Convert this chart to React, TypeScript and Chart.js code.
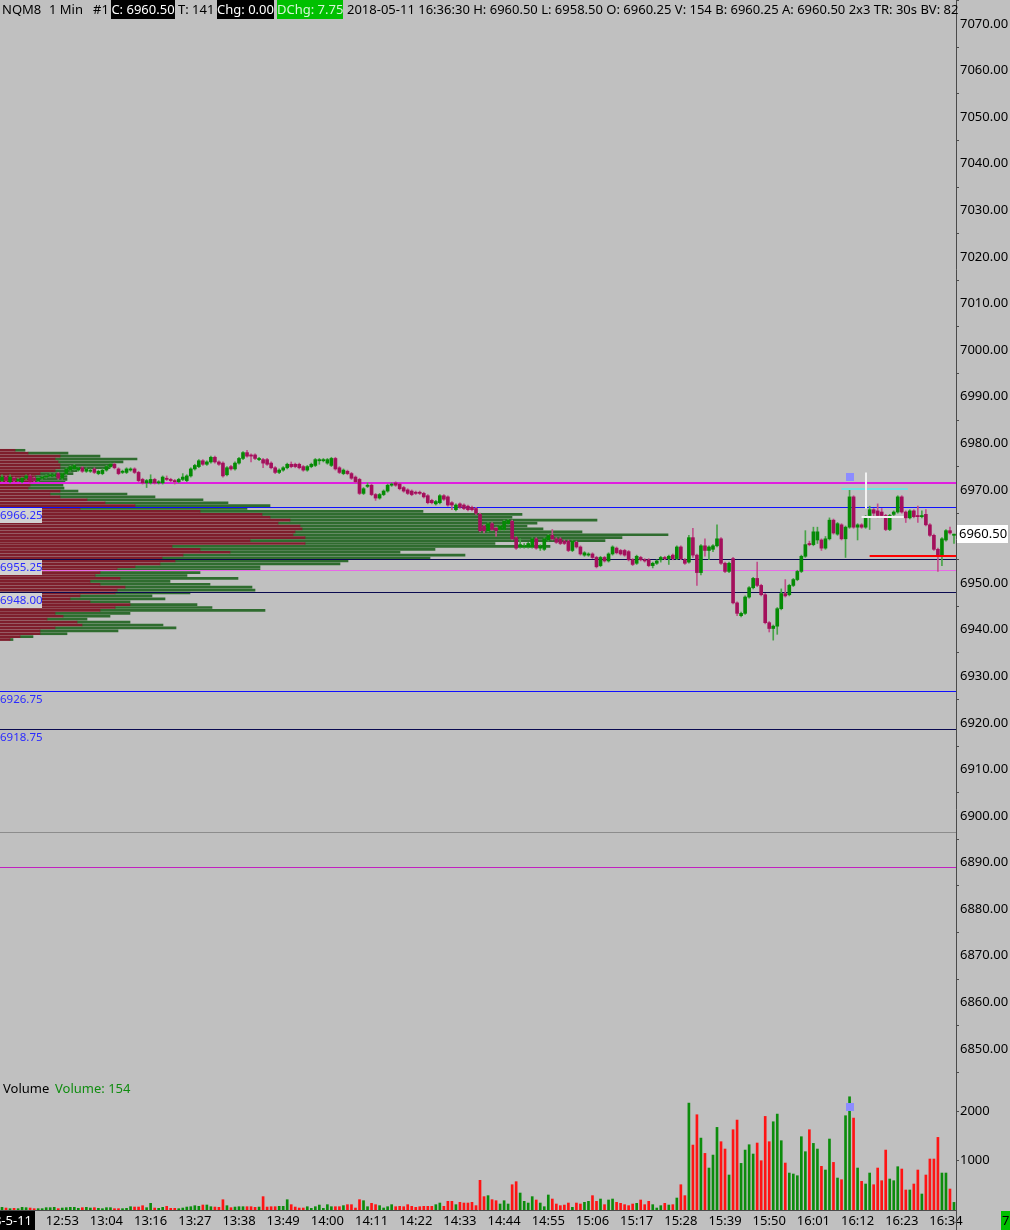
import React, { useEffect, useRef } from 'react';
import { Chart, registerables } from 'chart.js';

Chart.register(...registerables);

const FONT = "'Noto Sans', 'DejaVu Sans', sans-serif";

// ---------- time axis ----------
const sessionStart = '12:38';
const sessionEnd = '16:36';
const missingMinutes = ['13:10'];
const timeTickLabels = ['12:53', '13:04', '13:16', '13:27', '13:38', '13:49', '14:00', '14:11', '14:22', '14:33', '14:44', '14:55', '15:06', '15:17', '15:28', '15:39', '15:50', '16:01', '16:12', '16:23', '16:34'];
const sessionDateLabel = '2018-5-11';

function buildBarTimes(): string[] {
  const [sh, sm] = sessionStart.split(':').map(Number);
  const [eh, em] = sessionEnd.split(':').map(Number);
  const out: string[] = [];
  for (let m = sh * 60 + sm; m <= eh * 60 + em; m++) {
    const t = `${String(Math.floor(m / 60)).padStart(2, '0')}:${String(m % 60).padStart(2, '0')}`;
    if (!missingMinutes.includes(t)) out.push(t);
  }
  return out;
}
const barTimes = buildBarTimes();

// ---------- price candles [open, high, low, close] ----------
const ohlc: number[][] = [
  [6972.0, 6973.25, 6971.75, 6972.75], [6972.75, 6973.0, 6971.75, 6972.0], [6971.75, 6973.25, 6971.5, 6972.75], [6972.5, 6972.75, 6971.75, 6972.0],
  [6972.0, 6972.5, 6971.75, 6972.25], [6971.75, 6972.75, 6971.5, 6972.5], [6972.5, 6973.25, 6972.25, 6973.0], [6973.0, 6973.25, 6971.5, 6971.75],
  [6972.5, 6972.75, 6971.75, 6972.0], [6972.0, 6972.75, 6971.75, 6972.5], [6972.5, 6973.0, 6972.25, 6972.75], [6972.75, 6973.25, 6972.5, 6973.0],
  [6973.0, 6973.5, 6972.75, 6973.25], [6973.0, 6973.5, 6972.75, 6973.25], [6973.5, 6973.75, 6972.25, 6972.5], [6972.5, 6973.75, 6972.25, 6973.5],
  [6973.5, 6974.75, 6973.25, 6974.5], [6974.25, 6975.25, 6974.0, 6975.0], [6974.5, 6975.5, 6974.25, 6975.25], [6974.25, 6975.0, 6974.0, 6974.75],
  [6974.75, 6975.0, 6973.75, 6974.0], [6974.0, 6974.75, 6973.75, 6974.5], [6974.0, 6974.5, 6973.75, 6974.25], [6974.5, 6974.75, 6973.5, 6973.75],
  [6973.5, 6974.25, 6973.25, 6974.0], [6973.5, 6974.5, 6973.25, 6974.25], [6974.25, 6975.25, 6974.0, 6975.0], [6975.0, 6975.75, 6974.75, 6975.5],
  [6975.5, 6975.75, 6974.5, 6974.75], [6974.5, 6974.75, 6973.25, 6973.5], [6973.75, 6974.25, 6973.5, 6974.0], [6973.75, 6974.75, 6973.5, 6974.5],
  [6974.25, 6974.75, 6974.0, 6974.5], [6974.5, 6974.75, 6973.5, 6973.75], [6973.75, 6974.0, 6971.75, 6972.0], [6972.25, 6972.5, 6971.25, 6971.5],
  [6971.5, 6972.25, 6970.5, 6972.0], [6971.5, 6973.25, 6971.25, 6972.25], [6972.25, 6972.5, 6971.25, 6971.5], [6971.5, 6972.0, 6971.25, 6971.75],
  [6971.5, 6973.0, 6971.25, 6972.75], [6972.5, 6973.0, 6972.0, 6972.25], [6972.25, 6972.5, 6971.75, 6972.0], [6972.0, 6972.25, 6971.25, 6971.75],
  [6971.75, 6972.5, 6971.5, 6972.25], [6972.25, 6973.5, 6972.0, 6972.75], [6972.0, 6973.25, 6971.75, 6973.0], [6973.0, 6974.75, 6972.75, 6974.5],
  [6974.5, 6975.5, 6974.25, 6975.25], [6975.0, 6976.5, 6974.75, 6976.25], [6976.25, 6976.5, 6975.25, 6975.5], [6975.5, 6976.25, 6975.25, 6976.0],
  [6976.0, 6977.25, 6975.75, 6977.0], [6977.0, 6977.25, 6975.75, 6976.0], [6976.0, 6976.25, 6975.25, 6975.5], [6975.75, 6976.0, 6972.75, 6973.0],
  [6973.25, 6975.0, 6973.0, 6974.75], [6975.0, 6975.25, 6974.25, 6974.5], [6974.5, 6976.0, 6974.25, 6975.75], [6975.75, 6977.0, 6975.5, 6976.75],
  [6976.75, 6978.25, 6976.5, 6978.0], [6978.0, 6978.5, 6977.0, 6977.25], [6977.5, 6977.75, 6976.0, 6977.25], [6977.5, 6977.75, 6976.5, 6976.75],
  [6976.5, 6977.0, 6976.25, 6976.75], [6976.5, 6976.75, 6974.75, 6975.75], [6976.5, 6976.75, 6975.25, 6975.5], [6975.75, 6976.0, 6974.5, 6974.75],
  [6974.75, 6975.0, 6973.5, 6973.75], [6973.75, 6974.5, 6973.5, 6974.25], [6974.25, 6975.0, 6974.0, 6974.75], [6974.75, 6975.75, 6974.5, 6975.5],
  [6975.5, 6976.0, 6974.75, 6975.0], [6975.5, 6975.75, 6974.75, 6975.0], [6975.5, 6975.75, 6974.5, 6974.75], [6975.0, 6975.25, 6974.0, 6974.25],
  [6974.25, 6975.25, 6974.0, 6975.0], [6975.0, 6975.75, 6974.75, 6975.5], [6975.25, 6976.75, 6975.0, 6976.5], [6976.25, 6976.75, 6975.5, 6976.5],
  [6976.25, 6976.75, 6976.0, 6976.5], [6975.75, 6976.75, 6975.5, 6976.5], [6975.25, 6977.0, 6975.0, 6976.75], [6976.75, 6977.0, 6974.25, 6974.5],
  [6974.75, 6975.0, 6973.5, 6973.75], [6973.5, 6974.5, 6973.25, 6974.25], [6974.0, 6974.25, 6973.25, 6973.5], [6973.5, 6973.75, 6972.25, 6972.5],
  [6972.75, 6973.0, 6971.5, 6971.75], [6972.25, 6972.5, 6969.0, 6969.25], [6969.25, 6970.5, 6969.0, 6970.25], [6970.75, 6971.5, 6970.5, 6971.0],
  [6971.0, 6971.25, 6968.75, 6969.0], [6969.0, 6969.25, 6967.75, 6968.25], [6968.25, 6969.25, 6968.0, 6969.0], [6969.0, 6970.0, 6968.75, 6969.75],
  [6969.75, 6971.25, 6969.5, 6971.0], [6971.0, 6971.5, 6970.75, 6971.25], [6971.5, 6971.75, 6970.75, 6971.0], [6971.25, 6971.5, 6970.0, 6970.25],
  [6970.5, 6970.75, 6969.5, 6969.75], [6970.0, 6970.25, 6969.0, 6969.25], [6969.75, 6970.0, 6968.75, 6969.0], [6969.5, 6969.75, 6969.0, 6969.25],
  [6969.5, 6969.75, 6969.0, 6969.25], [6969.25, 6969.5, 6968.25, 6968.5], [6968.75, 6969.0, 6967.0, 6967.25], [6967.75, 6968.0, 6967.0, 6967.25],
  [6967.0, 6967.75, 6966.75, 6967.5], [6967.25, 6969.0, 6967.0, 6968.75], [6968.75, 6969.0, 6967.75, 6968.0], [6968.5, 6968.75, 6966.5, 6966.75],
  [6967.25, 6967.5, 6965.75, 6966.75], [6965.75, 6967.0, 6965.5, 6966.75], [6967.0, 6967.25, 6966.0, 6966.25], [6966.75, 6967.0, 6965.75, 6966.0],
  [6966.5, 6966.75, 6965.5, 6965.75], [6966.25, 6966.5, 6965.5, 6965.75], [6966.0, 6966.25, 6964.75, 6965.0], [6964.75, 6965.0, 6961.0, 6961.25],
  [6962.25, 6962.5, 6960.75, 6961.25], [6961.25, 6963.0, 6961.0, 6962.75], [6962.75, 6963.0, 6961.25, 6961.5], [6961.75, 6962.0, 6960.0, 6961.25],
  [6961.5, 6962.5, 6961.25, 6962.25], [6961.5, 6963.5, 6961.25, 6963.25], [6962.75, 6963.75, 6962.5, 6963.5], [6963.25, 6963.5, 6959.25, 6959.5],
  [6959.75, 6960.0, 6957.25, 6957.5], [6957.75, 6959.5, 6957.5, 6958.25], [6957.75, 6958.5, 6957.5, 6958.0], [6957.75, 6958.75, 6957.5, 6958.5],
  [6957.75, 6959.75, 6957.5, 6959.5], [6959.5, 6959.75, 6957.25, 6957.5], [6957.5, 6958.25, 6957.0, 6958.0], [6957.25, 6959.75, 6957.0, 6959.5],
  [6959.25, 6960.5, 6959.0, 6960.25], [6960.25, 6961.5, 6959.25, 6959.5], [6959.5, 6959.75, 6958.5, 6958.75], [6959.5, 6959.75, 6958.25, 6958.5],
  [6959.0, 6959.25, 6958.25, 6958.5], [6959.0, 6959.25, 6956.75, 6957.0], [6957.0, 6959.25, 6956.75, 6959.0], [6958.75, 6959.0, 6957.5, 6957.75],
  [6957.75, 6958.0, 6956.0, 6956.25], [6956.0, 6956.75, 6955.75, 6956.5], [6956.0, 6956.5, 6955.75, 6956.25], [6956.25, 6956.5, 6955.25, 6955.5],
  [6955.5, 6955.75, 6953.25, 6953.5], [6953.75, 6955.75, 6953.5, 6955.5], [6955.5, 6955.75, 6954.5, 6954.75], [6954.75, 6956.5, 6954.5, 6956.25],
  [6956.25, 6958.0, 6956.0, 6957.75], [6957.5, 6957.75, 6956.25, 6956.5], [6957.0, 6957.25, 6956.0, 6956.25], [6957.0, 6957.25, 6955.75, 6956.0],
  [6956.75, 6957.0, 6954.75, 6955.0], [6955.0, 6955.25, 6953.75, 6954.0], [6954.25, 6956.0, 6954.0, 6955.75], [6955.5, 6955.75, 6954.75, 6955.0],
  [6955.0, 6955.25, 6954.5, 6954.75], [6955.0, 6955.25, 6953.5, 6953.75], [6953.75, 6954.5, 6953.25, 6954.25], [6954.25, 6955.0, 6954.0, 6954.75],
  [6955.0, 6955.75, 6954.5, 6955.5], [6955.5, 6955.75, 6955.0, 6955.25], [6955.25, 6956.0, 6954.0, 6955.75], [6956.0, 6956.25, 6955.0, 6955.25],
  [6955.25, 6958.0, 6955.0, 6957.75], [6957.75, 6958.0, 6955.0, 6955.25], [6955.0, 6955.25, 6954.0, 6954.25], [6954.5, 6960.25, 6954.25, 6959.75],
  [6959.75, 6961.75, 6955.5, 6956.0], [6956.0, 6956.25, 6949.5, 6952.25], [6952.25, 6958.25, 6951.75, 6958.0], [6958.0, 6959.5, 6955.75, 6957.0],
  [6957.0, 6958.0, 6955.0, 6957.75], [6957.25, 6958.25, 6956.75, 6958.0], [6958.0, 6962.5, 6957.75, 6959.5], [6959.5, 6959.75, 6954.0, 6954.25],
  [6954.25, 6954.5, 6952.25, 6952.5], [6952.5, 6954.5, 6952.25, 6954.25], [6955.25, 6955.5, 6945.5, 6945.75], [6945.75, 6946.0, 6943.0, 6943.5],
  [6943.0, 6943.75, 6942.75, 6943.5], [6943.5, 6947.25, 6943.25, 6947.0], [6947.0, 6949.25, 6946.75, 6949.0], [6949.0, 6951.25, 6948.75, 6951.0],
  [6951.0, 6954.5, 6949.25, 6949.5], [6949.5, 6949.75, 6947.25, 6947.5], [6947.5, 6947.75, 6941.25, 6941.5], [6941.5, 6941.75, 6939.5, 6940.25],
  [6940.25, 6941.0, 6937.75, 6940.75], [6940.75, 6944.75, 6939.0, 6944.5], [6944.5, 6948.75, 6944.25, 6947.75], [6947.75, 6950.75, 6947.0, 6947.25],
  [6947.5, 6949.75, 6947.25, 6949.5], [6949.5, 6951.0, 6949.25, 6950.75], [6950.75, 6952.75, 6950.5, 6952.5], [6952.5, 6956.0, 6952.25, 6955.75],
  [6955.75, 6961.25, 6955.5, 6958.25], [6958.5, 6959.0, 6958.0, 6958.25], [6958.25, 6962.0, 6958.0, 6961.0], [6959.25, 6962.0, 6958.5, 6961.0],
  [6959.25, 6959.5, 6957.0, 6957.5], [6957.5, 6960.0, 6957.25, 6959.5], [6959.5, 6964.0, 6959.25, 6963.5], [6963.5, 6963.75, 6960.5, 6960.75],
  [6960.5, 6963.0, 6960.25, 6962.75], [6962.5, 6962.75, 6959.25, 6959.5], [6959.5, 6962.25, 6955.5, 6962.0], [6962.0, 6970.0, 6961.75, 6968.5],
  [6968.5, 6968.75, 6961.75, 6962.0], [6962.0, 6962.75, 6959.25, 6962.5], [6962.5, 6962.75, 6961.75, 6962.0], [6962.0, 6964.5, 6961.75, 6964.25],
  [6964.5, 6966.5, 6961.5, 6965.75], [6965.75, 6966.0, 6964.25, 6965.0], [6965.5, 6967.0, 6964.0, 6964.5], [6965.25, 6966.0, 6964.0, 6964.5],
  [6964.5, 6964.75, 6961.25, 6961.5], [6961.5, 6964.75, 6961.25, 6964.5], [6964.75, 6965.5, 6964.5, 6965.25], [6965.25, 6968.75, 6965.0, 6968.5],
  [6968.5, 6968.75, 6965.0, 6965.25], [6965.25, 6965.5, 6963.0, 6964.0], [6964.0, 6965.75, 6963.75, 6965.5], [6965.5, 6965.75, 6964.0, 6964.25],
  [6964.5, 6966.5, 6963.0, 6964.25], [6964.25, 6965.5, 6964.0, 6964.5], [6964.75, 6965.75, 6962.25, 6962.5], [6962.5, 6962.75, 6960.0, 6960.25],
  [6960.25, 6960.5, 6957.0, 6957.25], [6957.25, 6957.5, 6952.5, 6955.75], [6955.75, 6959.75, 6953.75, 6959.5], [6959.25, 6961.5, 6959.0, 6961.25],
  [6961.25, 6962.0, 6960.5, 6960.75], [6960.25, 6960.5, 6958.5, 6960.5],
];

// ---------- volume per bar ----------
const volumes: number[] = [
  54, 40, 27, 34, 27, 54, 47, 40, 27, 27, 27, 47, 47, 54, 27, 40, 47, 54, 54, 34,
  47, 54, 40, 47, 34, 27, 47, 47, 27, 27, 27, 34, 67, 60, 60, 87, 47, 135, 40, 34,
  54, 74, 34, 34, 27, 40, 60, 67, 87, 74, 101, 101, 67, 60, 54, 208, 87, 47, 60, 67,
  67, 67, 67, 54, 60, 270, 60, 67, 67, 74, 74, 208, 108, 60, 40,
  40, 67, 34, 67, 100, 34, 108, 67, 67, 67, 88, 108, 108, 40, 209, 188, 67, 135, 108, 88,
  40, 67, 108, 67, 74, 67, 108, 74, 54, 67, 74, 74, 74, 108, 141, 74, 175, 175, 108, 155,
  141, 141, 155, 88, 600, 270, 290, 209, 188, 121, 188, 121, 511, 572, 343, 175, 141, 270, 202, 141,
  67, 303, 222, 121, 88, 100, 141, 54, 141, 121, 155, 175, 290, 175, 222,
  108, 202, 222, 155, 135, 108, 88, 121, 135, 202, 108, 175, 108, 40, 88, 135, 100, 108, 242, 511,
  290, 2160, 1312, 1925, 1453, 1144, 848, 1110, 1669, 1380, 1232, 707, 1622, 1817, 942, 1211, 1319, 1131, 1353, 996,
  1891, 1380, 1783, 1938, 1400, 949, 747, 727, 693, 1481, 1178, 1622, 1346, 1232, 882, 808, 1434, 962, 646, 612,
  1905, 2288, 1857, 848, 579, 525, 747, 511, 848, 592, 1211, 626, 592, 875, 828, 404, 404, 525, 808, 323,
  707, 1030, 1030, 1467, 747, 747, 424, 154,
];

// ---------- volume profile (price ladder from top, sell / buy volume per row) ----------
const profileTop = 6978.5;
const profileStep = 0.625;
const profileSell: number[] = [
  15, 28, 60, 55, 58, 60, 60, 55, 40, 35, 30, 35, 30, 28, 60, 50, 60, 87, 105, 135,
  80, 200, 262, 270, 290, 278, 300, 302, 295, 293, 305, 250, 305, 172, 200, 230, 183, 162, 175, 160,
  135, 117, 100, 95, 120, 90, 100, 125, 117, 115, 80, 70, 90, 130, 115, 100, 55, 63, 47, 77,
  82, 55, 40, 40, 20, 10,
];
const profileBuy: number[] = [
  10, 40, 40, 82, 65, 53, 50, 22, 33, 32, 37, 30, 33, 36, 18, 77, 95, 116, 123, 135,
  167, 223, 260, 242, 307, 259, 227, 241, 287, 375, 317, 355, 190, 378, 235, 170, 282, 268, 173, 180,
  125, 143, 100, 92, 118, 80, 110, 127, 138, 75, 72, 95, 40, 67, 97, 165, 75, 47, 40, 53,
  81, 121, 78, 27, 13, 3,
];
const profilePrices = profileSell.map((_, i) => profileTop - i * profileStep);

// ---------- axes ----------
const priceTicks = [6850, 6860, 6870, 6880, 6890, 6900, 6910, 6920, 6930, 6940, 6950, 6960, 6970, 6980, 6990, 7000, 7010, 7020, 7030, 7040, 7050, 7060, 7070];
const priceMax = 7075.15;
const priceMin = 6843.77;
const volumeTicks = [1000, 2000];
const volumeMax = 2667;

// ---------- horizontal levels ----------
const levelPrices = [6971.5, 6966.25, 6955.25, 6952.75, 6948.0, 6926.75, 6918.75, 6896.5, 6889.0];
const levelStyles = [
  { color: '#e01ee0', width: 2 },
  { color: '#1010ff', width: 1 },
  { color: '#0a0a50', width: 1 },
  { color: '#e868e8', width: 1 },
  { color: '#0a0a50', width: 1 },
  { color: '#1010ff', width: 1 },
  { color: '#0a0a50', width: 1 },
  { color: '#8c8c8c', width: 1 },
  { color: '#c020c0', width: 1 },
];
const labeledLevels = [6966.25, 6955.25, 6948.0, 6926.75, 6918.75];

// ---------- annotations ----------
const markerBar = 211;
const markerPrice = 6972.75;
const markerVolume = 2080;
const cyanLevel = { price: 6970.25, fromBar: 209, toBar: 225 };
const whiteLevel = { price: 6964.25, fromBar: 214, toBar: 224 };
const whiteStem = { bar: 215, low: 6966.0, high: 6973.75 };
const redLevel = { price: 6955.75, fromBar: 216, toBar: 237 };
const lastPrice = 6960.5;
const dayChange = '7.75';

const GREEN_BODY = '#058a05';
const RED_BODY = '#a3105c';
const GREEN_WICK = '#47a347';
const RED_WICK = '#c0508a';

const zeroPad = (s: any) => {
  s.paddingTop = 0;
  s.paddingBottom = 0;
  s.paddingLeft = 0;
  s.paddingRight = 0;
};

export default function App() {
  const canvasRef = useRef<HTMLCanvasElement | null>(null);

  useEffect(() => {
    document.body.style.margin = '0';
    document.body.style.background = '#c0c0c0';
    const canvas = canvasRef.current;
    if (!canvas) return;
    Chart.defaults.font.family = FONT;
    Chart.defaults.font.size = 13;

    const up = ohlc.map((c) => c[3] >= c[0]);
    const bodyColors = up.map((u) => (u ? GREEN_BODY : RED_BODY));
    const wickColors = up.map((u) => (u ? GREEN_WICK : RED_WICK));
    const volColors = up.map((u) => (u ? '#0c8c0c' : '#ff1414'));

    const drawLevels = (chart: any) => {
      const { ctx, chartArea } = chart;
      const y = chart.scales.y;
      ctx.save();
      levelPrices.forEach((p, i) => {
        const py = Math.round(y.getPixelForValue(p)) + (levelStyles[i].width === 1 ? 0.5 : 0);
        ctx.strokeStyle = levelStyles[i].color;
        ctx.lineWidth = levelStyles[i].width;
        ctx.beginPath();
        ctx.moveTo(chartArea.left, py);
        ctx.lineTo(chartArea.right, py);
        ctx.stroke();
      });
      ctx.restore();
    };

    const overlay = {
      id: 'overlay',
      beforeDraw(chart: any) {
        const { ctx, width, height } = chart;
        ctx.save();
        ctx.fillStyle = '#c0c0c0';
        ctx.fillRect(0, 0, width, height);
        ctx.restore();
      },
      beforeDatasetDraw(chart: any, args: any) {
        if (args.index === 2) drawLevels(chart);
      },
      afterDatasetsDraw(chart: any) {
        const { ctx } = chart;
        const x = chart.scales.x;
        const y = chart.scales.y;
        const yv = chart.scales.yv;
        ctx.save();
        ctx.font = `11.5px ${FONT}`;
        ctx.textBaseline = 'middle';
        ctx.textAlign = 'left';
        labeledLevels.forEach((p, i) => {
          const py = Math.round(y.getPixelForValue(p));
          if (i < 3) {
            ctx.fillStyle = '#d2d2d2';
            ctx.fillRect(0, py + 1, 42, 15);
          }
          ctx.fillStyle = '#2a2aff';
          ctx.fillText(p.toFixed(2), 0, py + 9);
        });
        const seg = (lv: any, color: string) => {
          const py = Math.round(y.getPixelForValue(lv.price));
          ctx.strokeStyle = color;
          ctx.lineWidth = 2;
          ctx.beginPath();
          ctx.moveTo(x.getPixelForValue(lv.fromBar), py);
          ctx.lineTo(x.getPixelForValue(lv.toBar) + 2, py);
          ctx.stroke();
        };
        seg(cyanLevel, '#6fe2e2');
        seg(whiteLevel, '#f2f2f2');
        seg(redLevel, '#ff0000');
        const sx = Math.round(x.getPixelForValue(whiteStem.bar));
        ctx.strokeStyle = '#f2f2f2';
        ctx.lineWidth = 2;
        ctx.beginPath();
        ctx.moveTo(sx, y.getPixelForValue(whiteStem.high));
        ctx.lineTo(sx, y.getPixelForValue(whiteStem.low));
        ctx.stroke();
        const mx = x.getPixelForValue(markerBar);
        ctx.fillStyle = '#8c8cff';
        ctx.fillRect(Math.round(mx - 4), Math.round(y.getPixelForValue(markerPrice) - 4), 8, 8);
        ctx.fillRect(Math.round(mx - 4), Math.round(yv.getPixelForValue(markerVolume) - 4), 8, 8);
        ctx.restore();
      },
      afterDraw(chart: any) {
        const { ctx, chartArea, width, height } = chart;
        const y = chart.scales.y;
        ctx.save();
        const py = y.getPixelForValue(lastPrice);
        ctx.fillStyle = '#ffffff';
        ctx.fillRect(chartArea.right + 1, Math.round(py - 9), 51, 18);
        ctx.fillStyle = '#000000';
        ctx.font = `13px ${FONT}`;
        ctx.textBaseline = 'middle';
        ctx.textAlign = 'left';
        ctx.fillText(lastPrice.toFixed(2), chartArea.right + 3, py);
        ctx.save();
        ctx.beginPath();
        ctx.rect(0, chartArea.bottom + 1, 35, height - chartArea.bottom - 1);
        ctx.clip();
        ctx.fillStyle = '#000000';
        ctx.fillRect(0, chartArea.bottom + 1, 35, height - chartArea.bottom - 1);
        ctx.fillStyle = '#ffffff';
        ctx.textAlign = 'right';
        ctx.fillText(sessionDateLabel, 32, chartArea.bottom + 11);
        ctx.restore();
        ctx.save();
        ctx.beginPath();
        ctx.rect(1001, chartArea.bottom + 1, width - 1001, height - chartArea.bottom - 1);
        ctx.clip();
        ctx.fillStyle = '#00c000';
        ctx.fillRect(1001, chartArea.bottom + 1, width - 1001, height - chartArea.bottom - 1);
        ctx.fillStyle = '#000000';
        ctx.textAlign = 'left';
        ctx.fillText(dayChange, 1002, chartArea.bottom + 11);
        ctx.restore();
        ctx.strokeStyle = '#4a4a4a';
        ctx.lineWidth = 1;
        ctx.beginPath();
        ctx.moveTo(chartArea.right + 0.5, chartArea.bottom);
        ctx.lineTo(chartArea.right + 0.5, height);
        ctx.stroke();
        ctx.restore();
      },
    };

    const axisGrid = { drawOnChartArea: false, drawTicks: true, tickLength: 3, color: '#4a4a4a' };
    const axisBorder = { display: true, color: '#4a4a4a', width: 1 };

    const chart = new Chart(canvas, {
      type: 'bar',
      data: {
        labels: barTimes,
        datasets: [
          {
            label: 'Body',
            data: ohlc.map((c) => [c[0], c[3]]) as any,
            backgroundColor: bodyColors,
            barThickness: 3,
            minBarLength: 1,
            grouped: false,
            xAxisID: 'x',
            yAxisID: 'y',
            order: 0,
          },
          {
            label: 'Wick',
            data: ohlc.map((c) => [c[2], c[1]]) as any,
            backgroundColor: wickColors,
            barThickness: 1,
            grouped: false,
            xAxisID: 'x',
            yAxisID: 'y',
            order: 1,
          },
          {
            label: 'Volume',
            data: volumes,
            backgroundColor: volColors,
            barThickness: 2,
            grouped: false,
            xAxisID: 'x',
            yAxisID: 'yv',
            order: 2,
          },
          {
            label: 'Profile sell',
            indexAxis: 'y',
            data: profilePrices.map((p, i) => ({ x: profileSell[i], y: p })) as any,
            backgroundColor: '#7e1e2c',
            barThickness: 2,
            grouped: false,
            stack: 'profile',
            xAxisID: 'xp',
            yAxisID: 'y',
            order: 3,
          } as any,
          {
            label: 'Profile buy',
            indexAxis: 'y',
            data: profilePrices.map((p, i) => ({ x: profileBuy[i], y: p })) as any,
            backgroundColor: '#2f6c2f',
            barThickness: 2,
            grouped: false,
            stack: 'profile',
            xAxisID: 'xp',
            yAxisID: 'y',
            order: 4,
          } as any,
        ],
      },
      options: {
        responsive: false,
        animation: false,
        devicePixelRatio: 1,
        layout: { padding: 0 },
        plugins: { legend: { display: false }, tooltip: { enabled: false }, title: { display: false } },
        scales: {
          y: {
            type: 'linear',
            position: 'right',
            offset: false,
            stack: 'right',
            stackWeight: 1078,
            min: priceMin,
            max: priceMax,
            afterBuildTicks: (s: any) => {
              s.ticks = priceTicks.map((v) => ({ value: v }));
            },
            afterFit: (s: any) => {
              s.width = 54;
              zeroPad(s);
            },
            grid: axisGrid,
            border: axisBorder,
            ticks: { color: '#000000', padding: 1, font: { size: 13, family: FONT }, callback: (v: any) => Number(v).toFixed(2) },
          },
          yv: {
            type: 'linear',
            axis: 'y',
            position: 'right',
            offset: false,
            stack: 'right',
            stackWeight: 132,
            min: 0,
            max: volumeMax,
            afterBuildTicks: (s: any) => {
              s.ticks = volumeTicks.map((v) => ({ value: v }));
            },
            afterFit: (s: any) => {
              s.width = 54;
              zeroPad(s);
            },
            grid: axisGrid,
            border: axisBorder,
            ticks: { color: '#000000', padding: 1, font: { size: 13, family: FONT }, callback: (v: any) => String(v) },
          },
          x: {
            type: 'category',
            position: 'bottom',
            offset: true,
            afterDataLimits: (s: any) => {
              s.max = s.max + 1;
            },
            afterFit: (s: any) => {
              s.height = 20;
              zeroPad(s);
            },
            grid: { display: false, drawTicks: false },
            border: { display: true, color: '#4a4a4a' },
            ticks: {
              autoSkip: false,
              maxRotation: 0,
              minRotation: 0,
              padding: 3,
              color: '#000000',
              font: { size: 13, family: FONT },
              callback: function (this: any, value: any) {
                const l = this.getLabelForValue(value);
                return timeTickLabels.includes(l) ? l : '';
              },
            },
          },
          xp: {
            type: 'linear',
            axis: 'x',
            position: 'top',
            display: false,
            offset: false,
            min: 0,
            max: 956,
            afterFit: (s: any) => zeroPad(s),
          },
        } as any,
      },
      plugins: [overlay],
    } as any);

    return () => chart.destroy();
  }, []);

  const txt: React.CSSProperties = { position: 'absolute', top: 0, height: 19, lineHeight: '19px', fontSize: 13, whiteSpace: 'nowrap', color: '#000' };
  const box = (left: number, width: number, bg: string, color: string): React.CSSProperties => ({
    ...txt,
    left,
    width,
    background: bg,
    color,
    textAlign: 'center',
  });

  return (
    <div style={{ position: 'absolute', left: 0, top: 0, width: 1010, height: 1230, background: '#c0c0c0', overflow: 'hidden', fontFamily: FONT }}>
      <canvas ref={canvasRef} width={1010} height={1230} style={{ display: 'block', width: 1010, height: 1230 }} />
      <span style={{ ...txt, left: 2 }}>NQM8</span>
      <span style={{ ...txt, left: 49 }}>1 Min</span>
      <span style={{ ...txt, left: 93 }}>#1</span>
      <span style={box(111, 64, '#000000', '#ffffff')}>C: 6960.50</span>
      <span style={{ ...txt, left: 178 }}>T: 141</span>
      <span style={box(217, 57, '#000000', '#ffffff')}>Chg: 0.00</span>
      <span style={box(277, 66, '#00c000', '#d6f5d6')}>DChg: 7.75</span>
      <span style={{ ...txt, left: 347 }}>2018-05-11 16:36:30 H: 6960.50 L: 6958.50 O: 6960.25 V: 154 B: 6960.25 A: 6960.50 2x3 TR: 30s BV: 82</span>
      <span style={{ ...txt, top: 1079, left: 3 }}>Volume</span>
      <span style={{ ...txt, top: 1079, left: 55, color: '#108c10' }}>Volume: 154</span>
    </div>
  );
}
